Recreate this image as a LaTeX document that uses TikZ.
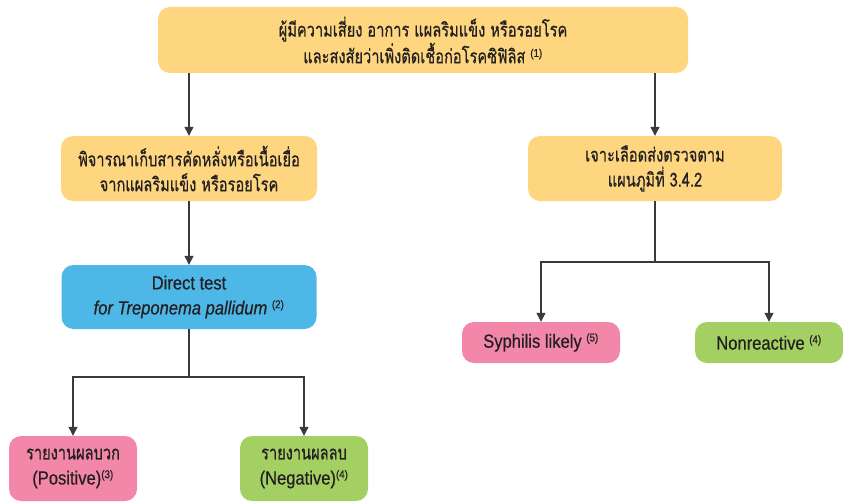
\documentclass[tikz,border=0pt]{standalone}
\usepackage{fontspec}
\setmainfont[FakeStretch=0.87,Scale=1.12,FakeBold=0.5]{Liberation Sans}
\newfontfamily\thai[Script=Thai,Scale=1.14,FakeStretch=0.755,FakeBold=0.5]{Loma}
\usetikzlibrary{arrows.meta}
\definecolor{yel}{HTML}{FDD67F}
\definecolor{blu}{HTML}{4DB7E8}
\definecolor{pnk}{HTML}{F287A9}
\definecolor{grn}{HTML}{A3CF63}
\definecolor{ln}{HTML}{3A3A3A}
\definecolor{txt}{HTML}{231F20}
\newcommand{\sps}[1]{\textsuperscript{\fontsize{10}{10}\selectfont(#1)}}
\tikzset{
  box/.style={rounded corners=12pt, align=center, inner sep=2pt, text=txt,
    font=\fontsize{17}{25}\selectfont},
  ybox/.style={box, fill=yel},
  bbox/.style={box, fill=blu},
  pbox/.style={box, fill=pnk},
  gbox/.style={box, fill=grn},
  link/.style={draw=ln, line width=1.2pt},
  arr/.style={link, -{Triangle[length=9pt,width=9pt]}},
}
\begin{document}
\begin{tikzpicture}[x=1pt,y=-1pt]
\useasboundingbox (0,0) rectangle (843,503);
\node[ybox, minimum width=530pt, minimum height=66pt] (top) at (423,40)
  {\thai ผู้มีความเสี่ยง อาการ แผลริมแข็ง หรือรอยโรค\\ \thai และสงสัยว่าเพิ่งติดเชื้อก่อโรคซิฟิลิส \rmfamily\sps{1}};
\node[ybox, minimum width=256pt, minimum height=65pt] (lft) at (189,168.5)
  {\thai พิจารณาเก็บสารคัดหลั่งหรือเนื้อเยื่อ\\ \thai จากแผลริมแข็ง หรือรอยโรค};
\node[ybox, minimum width=254pt, minimum height=65pt] (rgt) at (655,168.5)
  {\thai เจาะเลือดส่งตรวจตาม\\ \thai แผนภูมิที่ 3.4.2};
\node[bbox, minimum width=255pt, minimum height=64pt] (dir) at (189,297)
  {Direct test\\ \textit{for Treponema pallidum} \sps{2}};
\node[pbox, minimum width=128pt, minimum height=65pt] (pos) at (73,468.5)
  {\thai รายงานผลบวก\\ (Positive)\sps{3}};
\node[gbox, minimum width=128pt, minimum height=65pt] (neg) at (304,468.5)
  {\thai รายงานผลลบ\\ (Negative)\sps{4}};
\node[pbox, minimum width=158pt, minimum height=41pt] (syp) at (541,342.5)
  {Syphilis likely \sps{5}};
\node[gbox, minimum width=148pt, minimum height=41pt] (non) at (769,342.5)
  {Nonreactive \sps{4}};
\coordinate (bl) at (189,377);
\coordinate (br) at (655,262);
\draw[arr] (lft.north |- top.south) -- (lft.north);
\draw[arr] (rgt.north |- top.south) -- (rgt.north);
\draw[arr] (lft.south) -- (dir.north);
\draw[link] (dir.south) -- (bl);
\draw[arr] (bl) -| (pos.north);
\draw[arr] (bl) -| (neg.north);
\draw[link] (rgt.south) -- (br);
\draw[arr] (br) -| (syp.north);
\draw[arr] (br) -| (non.north);
\end{tikzpicture}
\end{document}
